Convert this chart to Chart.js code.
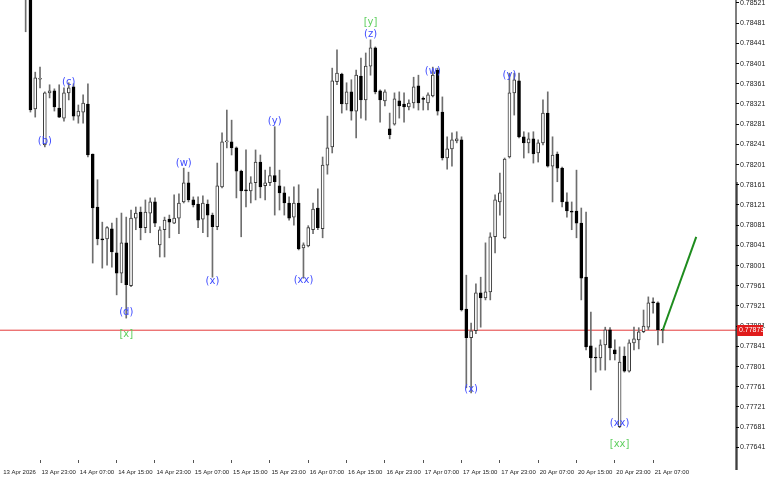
<!DOCTYPE html>
<html>
<head>
<meta charset="utf-8">
<script src="https://cdn.jsdelivr.net/npm/chart.js@4.4.1/dist/chart.umd.min.js"></script>
<style>
  html, body { margin: 0; padding: 0; background: #fff; }
  #wrap { width: 768px; height: 480px; }
</style>
</head>
<body>
<div id="wrap"><canvas id="chart" width="768" height="480"></canvas></div>
<script>
// H1 bars, bar index 0 = left edge of the window
const firstBar = 5;
const opens = [
  0.78570, 0.78560, 0.78311, 0.78370, 0.78240, 0.78343, 0.78347, 0.78313, 0.78293, 0.78343,
  0.78355, 0.78297, 0.78305, 0.78321, 0.78222, 0.78117, 0.78054, 0.78054, 0.78074, 0.78026,
  0.77986, 0.78046, 0.77961, 0.78095, 0.78107, 0.78076, 0.78105, 0.78127, 0.78042, 0.78072,
  0.78093, 0.78085, 0.78095, 0.78127, 0.78165, 0.78131, 0.78123, 0.78093, 0.78123, 0.78101,
  0.78078, 0.78157, 0.78246, 0.78246, 0.78234, 0.78188, 0.78150, 0.78149, 0.78165, 0.78206,
  0.78159, 0.78165, 0.78179, 0.78159, 0.78145, 0.78125, 0.78097, 0.78125, 0.78036, 0.78040,
  0.78072, 0.78115, 0.78074, 0.78200, 0.78236, 0.78365, 0.78380, 0.78321, 0.78345, 0.78307,
  0.78376, 0.78329, 0.78396, 0.78432, 0.78347, 0.78327, 0.78272, 0.78281, 0.78327, 0.78321,
  0.78315, 0.78323, 0.78357, 0.78331, 0.78323, 0.78337, 0.78388, 0.78305, 0.78214, 0.78232,
  0.78248, 0.78250, 0.77915, 0.77858, 0.77872, 0.77947, 0.77937, 0.77949, 0.78058, 0.78127,
  0.78056, 0.78216, 0.78343, 0.78367, 0.78256, 0.78244, 0.78252, 0.78224, 0.78244, 0.78303,
  0.78198, 0.78222, 0.78194, 0.78127, 0.78108, 0.78109, 0.78085, 0.77978, 0.77842, 0.77819,
  0.77818, 0.77844, 0.77874, 0.77834, 0.77682, 0.77822, 0.77792, 0.77848, 0.77854, 0.77870,
  0.77879, 0.77929, 0.77927, 0.77874
];
const highs = [
  0.78620, 0.78580, 0.78384, 0.78394, 0.78345, 0.78359, 0.78351, 0.78359, 0.78353, 0.78363,
  0.78361, 0.78319, 0.78339, 0.78361, 0.78222, 0.78171, 0.78087, 0.78078, 0.78085, 0.78095,
  0.78105, 0.78097, 0.78111, 0.78117, 0.78117, 0.78131, 0.78135, 0.78135, 0.78078, 0.78097,
  0.78101, 0.78141, 0.78143, 0.78194, 0.78186, 0.78137, 0.78137, 0.78139, 0.78131, 0.78105,
  0.78204, 0.78264, 0.78309, 0.78289, 0.78236, 0.78190, 0.78230, 0.78177, 0.78230, 0.78220,
  0.78190, 0.78196, 0.78276, 0.78190, 0.78157, 0.78137, 0.78157, 0.78161, 0.78046, 0.78080,
  0.78125, 0.78153, 0.78216, 0.78297, 0.78392, 0.78428, 0.78382, 0.78363, 0.78369, 0.78388,
  0.78412, 0.78422, 0.78448, 0.78434, 0.78349, 0.78349, 0.78303, 0.78343, 0.78345, 0.78343,
  0.78329, 0.78374, 0.78378, 0.78335, 0.78343, 0.78394, 0.78392, 0.78335, 0.78256, 0.78264,
  0.78266, 0.78256, 0.77982, 0.77887, 0.77965, 0.77978, 0.78046, 0.78066, 0.78141, 0.78184,
  0.78214, 0.78382, 0.78382, 0.78382, 0.78266, 0.78264, 0.78266, 0.78250, 0.78329, 0.78345,
  0.78256, 0.78226, 0.78196, 0.78145, 0.78127, 0.78190, 0.78115, 0.78107, 0.77909, 0.77838,
  0.77854, 0.77879, 0.77878, 0.77854, 0.77840, 0.77840, 0.77854, 0.77879, 0.77878, 0.77913,
  0.77939, 0.77937, 0.77929, 0.77875
];
const lows = [
  0.78464, 0.78305, 0.78295, 0.78353, 0.78236, 0.78333, 0.78307, 0.78294, 0.78287, 0.78329,
  0.78289, 0.78283, 0.78283, 0.78216, 0.78006, 0.78042, 0.77996, 0.78002, 0.77998, 0.77943,
  0.77967, 0.77897, 0.77959, 0.78072, 0.78052, 0.78066, 0.78066, 0.78078, 0.78018, 0.78018,
  0.78056, 0.78084, 0.78064, 0.78125, 0.78127, 0.78117, 0.78076, 0.78066, 0.78058, 0.77978,
  0.78072, 0.78155, 0.78234, 0.78220, 0.78135, 0.78058, 0.78117, 0.78125, 0.78131, 0.78135,
  0.78131, 0.78159, 0.78101, 0.78111, 0.78101, 0.78091, 0.78081, 0.78032, 0.77976, 0.78038,
  0.78064, 0.78072, 0.78056, 0.78182, 0.78224, 0.78359, 0.78303, 0.78309, 0.78289, 0.78254,
  0.78293, 0.78289, 0.78378, 0.78341, 0.78285, 0.78317, 0.78252, 0.78279, 0.78293, 0.78285,
  0.78309, 0.78313, 0.78309, 0.78309, 0.78309, 0.78335, 0.78299, 0.78210, 0.78192, 0.78198,
  0.78244, 0.77911, 0.77759, 0.77749, 0.77866, 0.77879, 0.77933, 0.77933, 0.78026, 0.78101,
  0.78054, 0.78214, 0.78299, 0.78254, 0.78214, 0.78224, 0.78204, 0.78206, 0.78240, 0.78196,
  0.78127, 0.78167, 0.78117, 0.78097, 0.78072, 0.78056, 0.77933, 0.77834, 0.77755, 0.77790,
  0.77794, 0.77794, 0.77814, 0.77814, 0.77680, 0.77790, 0.77790, 0.77834, 0.77836, 0.77868,
  0.77874, 0.77907, 0.77844, 0.77848
];
const closes = [
  0.78600, 0.78309, 0.78373, 0.78371, 0.78343, 0.78347, 0.78315, 0.78295, 0.78343, 0.78353,
  0.78297, 0.78307, 0.78323, 0.78220, 0.78115, 0.78054, 0.78052, 0.78076, 0.78028, 0.77986,
  0.78046, 0.77963, 0.78095, 0.78105, 0.78076, 0.78107, 0.78127, 0.78085, 0.78072, 0.78091,
  0.78087, 0.78095, 0.78125, 0.78165, 0.78131, 0.78121, 0.78091, 0.78125, 0.78101, 0.78078,
  0.78159, 0.78246, 0.78248, 0.78234, 0.78188, 0.78149, 0.78149, 0.78165, 0.78206, 0.78157,
  0.78165, 0.78179, 0.78167, 0.78145, 0.78125, 0.78095, 0.78125, 0.78034, 0.78042, 0.78076,
  0.78113, 0.78076, 0.78200, 0.78234, 0.78367, 0.78382, 0.78321, 0.78345, 0.78307, 0.78378,
  0.78329, 0.78396, 0.78432, 0.78345, 0.78329, 0.78345, 0.78260, 0.78331, 0.78317, 0.78315,
  0.78323, 0.78355, 0.78323, 0.78330, 0.78339, 0.78378, 0.78307, 0.78214, 0.78232, 0.78250,
  0.78252, 0.77913, 0.77858, 0.77872, 0.77947, 0.77937, 0.77949, 0.78058, 0.78131, 0.78145,
  0.78212, 0.78343, 0.78369, 0.78256, 0.78244, 0.78252, 0.78222, 0.78244, 0.78303, 0.78198,
  0.78220, 0.78194, 0.78127, 0.78109, 0.78107, 0.78085, 0.77976, 0.77840, 0.77818, 0.77818,
  0.77844, 0.77874, 0.77838, 0.77826, 0.77810, 0.77792, 0.77848, 0.77856, 0.77870, 0.77881,
  0.77927, 0.77927, 0.77874, 0.77873
];

const lastPrice = 0.77873;
const forecastBars = [138, 145];
const forecastPrices = [0.77873, 0.78058];

const yTicks = [
  0.77641, 0.77681, 0.77721, 0.77761, 0.77801, 0.77841, 0.77881, 0.77921, 0.77961, 0.78001,
  0.78041, 0.78081, 0.78121, 0.78161, 0.78201, 0.78241, 0.78281, 0.78321, 0.78361, 0.78401,
  0.78441, 0.78481, 0.78521
];
const xTickBars = [0, 8, 16, 24, 32, 40, 48, 56, 64, 72, 80, 88, 96, 104, 112, 120, 128, 136];
const xTickLabels = [
  '13 Apr 2026', '13 Apr 23:00', '14 Apr 07:00', '14 Apr 15:00', '14 Apr 23:00', '15 Apr 07:00',
  '15 Apr 15:00', '15 Apr 23:00', '16 Apr 07:00', '16 Apr 15:00', '16 Apr 23:00', '17 Apr 07:00',
  '17 Apr 15:00', '17 Apr 23:00', '20 Apr 07:00', '20 Apr 15:00', '20 Apr 23:00', '21 Apr 07:00'
];

// wave marks: text, bar, price
const waveText  = ['(b)', '(c)', '(d)', '[x]', '(w)', '(x)', '(y)', '(xx)', '[y]', '(z)', '(w)', '(x)', '(y)', '(xx)', '[xx]'];
const waveBar   = [9, 14, 26, 26, 38, 44, 57, 63, 77, 77, 90, 98, 106, 129, 129];
const wavePrice = [0.78246, 0.78364, 0.77909, 0.77864, 0.78204, 0.77969, 0.78287, 0.77971,
                   0.78483, 0.78458, 0.78386, 0.77755, 0.78378, 0.77689, 0.77646];

const FONT = "'Liberation Sans', Arial, sans-serif";

const bars = opens.map((o, k) => ({ x: firstBar + k, o: o, h: highs[k], l: lows[k], c: closes[k] }));
const wicks = bars.map(b => ({ x: b.x, y: [b.l, b.h] }));
const bodies = bars.map(b => ({ x: b.x, y: [Math.min(b.o, b.c), Math.max(b.o, b.c)] }));
const bodyFill = bars.map(b => b.c >= b.o ? '#ffffff' : '#000000');
const bodyEdge = bars.map(b => b.c >= b.o ? '#3a3a3a' : '#000000');

const X_MIN = -0.355, X_MAX = 153.3;
const Y_MIN = 0.77616, Y_MAX = 0.785269;

const extras = {
  id: 'extras',
  afterDatasetsDraw(chart) {
    const { ctx, scales: { x, y } } = chart;
    ctx.save();
    ctx.font = '10px ' + "'DejaVu Sans', sans-serif";
    ctx.textAlign = 'center';
    ctx.textBaseline = 'middle';
    waveText.forEach((t, k) => {
      ctx.fillStyle = t[0] === '[' ? '#5fcf5f' : '#3f4cff';
      ctx.fillText(t, x.getPixelForValue(waveBar[k]), y.getPixelForValue(wavePrice[k]));
    });
    ctx.restore();
  },
  afterDraw(chart) {
    const { ctx, chartArea, scales: { y } } = chart;
    ctx.save();
    // axis line runs a bit below the plot, heavier on the lower part
    ctx.fillStyle = '#000';
    ctx.fillRect(chartArea.right - 0.5, chartArea.top, 1, 470 - chartArea.top);
    ctx.fillRect(chartArea.right + 0.5, 182, 1, 470 - 182);
    // last price tag
    const py = y.getPixelForValue(lastPrice);
    ctx.fillStyle = '#e01b1b';
    ctx.fillRect(chartArea.right + 1, Math.round(py) - 5, 26, 11);
    ctx.fillStyle = '#fff';
    ctx.font = '7px ' + FONT;
    ctx.textBaseline = 'middle';
    ctx.textAlign = 'left';
    ctx.fillText(lastPrice.toFixed(5), chartArea.right + 3, Math.round(py) + 0.5);
    ctx.restore();
  }
};

new Chart(document.getElementById('chart'), {
  type: 'bar',
  data: {
    datasets: [
      { type: 'line', data: forecastBars.map((b, k) => ({ x: b, y: forecastPrices[k] })),
        borderColor: '#1e8c1e', borderWidth: 2, pointRadius: 0, order: 0 },
      { data: bodies, backgroundColor: bodyFill, borderColor: bodyEdge, borderWidth: 1,
        borderSkipped: false, barThickness: 3, minBarLength: 1, grouped: false, order: 1 },
      { data: wicks, backgroundColor: '#6e6e6e', barThickness: 1, grouped: false, order: 2 },
      { type: 'line', data: [{ x: X_MIN, y: lastPrice }, { x: X_MAX, y: lastPrice }],
        borderColor: '#e43a3a', borderWidth: 1, pointRadius: 0, order: 3 }
    ]
  },
  options: {
    responsive: false,
    animation: false,
    layout: { padding: 0 },
    plugins: { legend: { display: false }, tooltip: { enabled: false } },
    scales: {
      x: {
        type: 'linear', position: 'bottom', min: X_MIN, max: X_MAX, offset: false, bounds: 'data',
        afterBuildTicks: s => { s.ticks = xTickBars.map(v => ({ value: v })); },
        afterFit: s => { s.height = 20; s.paddingLeft = 0; s.paddingRight = 0; },
        border: { display: false },
        grid: { drawOnChartArea: false, drawTicks: true, tickLength: 3, offset: false,
                color: c => c.index === 0 ? 'rgba(0,0,0,0)' : '#555' },
        ticks: { autoSkip: false, maxRotation: 0, minRotation: 0, align: 'start', labelOffset: 1.5,
                 padding: 6, color: '#222', font: { family: FONT, size: 6 },
                 callback: (v, i) => xTickLabels[i] }
      },
      y: {
        type: 'linear', position: 'right', min: Y_MIN, max: Y_MAX, bounds: 'data',
        afterBuildTicks: s => { s.ticks = yTicks.map(v => ({ value: v })); },
        afterFit: s => { s.width = 32; s.paddingTop = 0; s.paddingBottom = 0; },
        border: { display: false },
        grid: { drawOnChartArea: false, drawTicks: true, tickLength: 3, color: '#000' },
        ticks: { autoSkip: false, padding: 1, color: '#222', font: { family: FONT, size: 7 },
                 callback: v => v.toFixed(5) }
      }
    }
  },
  plugins: [extras]
});
</script>
</body>
</html>
